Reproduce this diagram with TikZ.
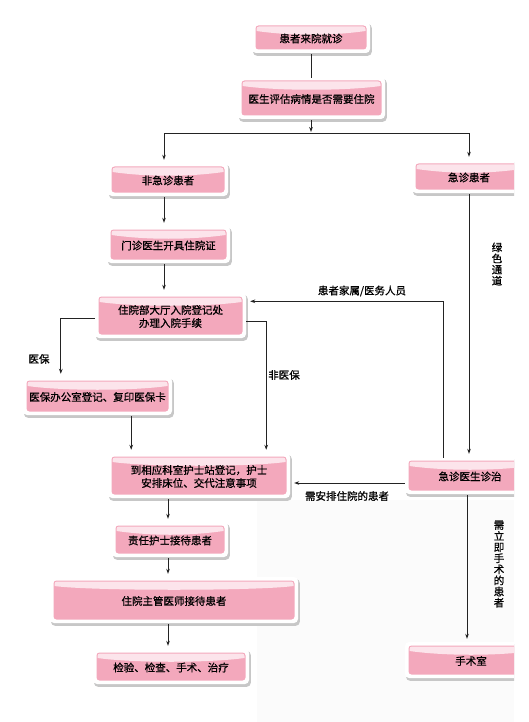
\documentclass[tikz,border=0pt]{standalone}
\usepackage{fontspec}
\newfontfamily\cjk[FakeBold=0.9]{Noto Sans CJK SC}
\usetikzlibrary{arrows.meta,calc}
\definecolor{pinkc}{RGB}{243,168,188}
\definecolor{hlc}{RGB}{252,228,235}
\definecolor{linec}{RGB}{35,35,35}
\definecolor{faint}{RGB}{251,251,251}
\tikzset{
  boxnode/.style={inner sep=0pt,align=center,font=\cjk\fontsize{10.5}{13}\selectfont,text=black},
  lab/.style={inner sep=0pt,align=center,font=\cjk\fontsize{10.5}{11.1}\selectfont,text=black},
  ln/.style={draw=linec,line width=0.8pt},
  arr/.style={ln,-{Stealth[length=5pt,width=3.6pt]},shorten >=4pt}
}
\newcommand\pinkbox[6]{%
  \fill[black!22,rounded corners=4pt] ({#2+1},{#3+2}) rectangle ({#4+1.8},{#5+2.8});
  \fill[white,rounded corners=4pt] (#2,#3) rectangle (#4,#5);
  \fill[pinkc,rounded corners=3pt] ({#2+3.5},{#3+3.5}) rectangle ({#4-3.5},{#5-3.5});
  \fill[hlc] ({#2+4.5},{#3+7}) arc[start angle=180,end angle=90,radius=2.5pt] -- ({#4-7},{#3+4.5}) arc[start angle=90,end angle=0,radius=2.5pt] -- ({#4-4.5},{#3+9}) .. controls ({#4-40},{#3+14}) and ({#2+40},{#3+14}) .. ({#2+4.5},{#3+9}) -- cycle;
  \node[boxnode,minimum width={(#4-#2)*1pt},minimum height={(#5-#3)*1pt}] (#1) at ({(#2+#4)/2},{(#3+#5)/2+1}) {#6};
}
\begin{document}
\begin{tikzpicture}[x=1pt,y=-1pt]
\useasboundingbox (0,0) rectangle (528,722);
\fill[white] (0,0) rectangle (528,722);
\begin{scope}
\clip (0,0) rectangle (514,722);
\fill[faint] (257,500) rectangle (514,722);
\pinkbox{b1}{252}{22}{370}{53}{患者来院就诊}
\pinkbox{b2}{238}{77}{385}{119}{医生评估病情是否需要住院}
\pinkbox{b3}{108}{163}{228}{196}{非急诊患者}
\pinkbox{b5}{412}{160}{526}{193}{急诊患者}
\pinkbox{b4}{107}{226}{230}{263}{门诊医生开具住院证}
\pinkbox{zy}{95}{293}{246}{338}{住院部大厅入院登记处\\办理入院手续}
\pinkbox{yb}{23}{377}{172}{415}{医保办公室登记、复印医保卡}
\pinkbox{dx}{108}{453}{290}{498}{到相应科室护士站登记，护士\\安排床位、交代注意事项}
\pinkbox{jz}{405}{457}{535}{494}{急诊医生诊治}
\pinkbox{zr}{112}{522}{228}{557}{责任护士接待患者}
\pinkbox{zg}{50}{577}{298}{623}{住院主管医师接待患者}
\pinkbox{jy}{93}{649}{249}{684}{检验、检查、手术、治疗}
\pinkbox{ss}{405}{642}{537}{678}{手术室}

\coordinate (cx) at (164,0);
\coordinate (cy) at (168,0);
\coordinate (j) at (311,133);

\draw[ln] (b1.south -| j) -- (b2.north -| j);
\draw[arr,shorten >=1pt] (b2.south -| j) -- (j);
\draw[arr] (j) -| (b3.north -| cx);
\draw[arr] (j) -| (b5.north);
\draw[arr] (b3.south -| cx) -- (b4.north -| cx);
\draw[arr] (b4.south -| cx) -- (zy.north -| cx);
\draw[arr] ([yshift=-1.5pt]zy.west) -| ([xshift=38pt]yb.north west);
\draw[arr] ([yshift=-4.5pt]zy.east) -| ([xshift=-24pt]dx.north east);
\draw[arr] ([xshift=-41pt]yb.south east) -- ([xshift=-41pt]yb.south east |- dx.north);
\draw[arr] ([xshift=-27pt]jz.north) |- ([yshift=-7.5pt]zy.north east);
\draw[arr] ([yshift=-6.5pt]jz.west) -- ([yshift=-6.5pt]jz.west -| dx.east);
\draw[arr] (b5.south) -- (b5.south |- jz.north);
\draw[arr] ([xshift=-3pt]jz.south) -- ([xshift=-3pt]jz.south |- ss.north);
\draw[arr] (dx.south -| cy) -- (zr.north -| cy);
\draw[arr] (zr.south -| cy) -- (zg.north -| cy);
\draw[arr] (zg.south -| cy) -- (jy.north -| cy);

\node[lab] (l1) at (39,359) {医保};
\node[lab] (l2) at (284,375) {非医保};
\node[lab] (l3) at (362,291) {患者家属/医务人员};
\node[lab] (l4) at (347,496) {需安排住院的患者};
\node[lab] (l5) at (497,264) {绿\\色\\通\\道};
\node[lab] (l6) at (499,564) {需\\立\\即\\手\\术\\的\\患\\者};
\end{scope}
\end{tikzpicture}
\end{document}
